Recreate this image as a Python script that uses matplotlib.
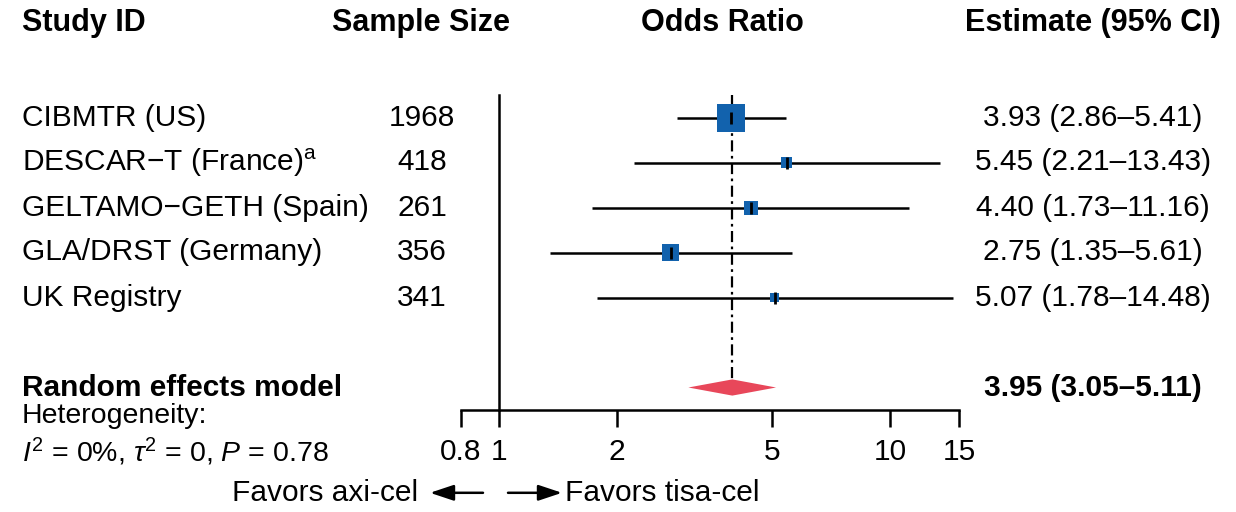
import matplotlib
matplotlib.use("Agg")
import matplotlib.pyplot as plt
from matplotlib import transforms
from matplotlib.patches import Polygon
from matplotlib.ticker import NullLocator, NullFormatter

# ---- data ----
studies = ["CIBMTR (US)", r"DESCAR−T (France)$^{\mathrm{a}}$", "GELTAMO−GETH (Spain)",
           "GLA/DRST (Germany)", "UK Registry"]
sample_sizes = [1968, 418, 261, 356, 341]
odds_ratio = [3.93, 5.45, 4.40, 2.75, 5.07]
ci_low = [2.86, 2.21, 1.73, 1.35, 1.78]
ci_high = [5.41, 13.43, 11.16, 5.61, 14.48]
pooled_or = 3.95
pooled_low = 3.05
pooled_high = 5.11
x_ticks = [0.8, 1, 2, 5, 10, 15]
x_tick_labels = ["0.8", "1", "2", "5", "10", "15"]

# ---- style ----
plt.rcParams["font.family"] = ["Liberation Sans", "DejaVu Sans"]
plt.rcParams["mathtext.fontset"] = "custom"
plt.rcParams["mathtext.rm"] = "Liberation Sans"
plt.rcParams["mathtext.it"] = "Liberation Sans:italic"
plt.rcParams["mathtext.bf"] = "Liberation Sans:bold"

BODY = 21.5
HEAD = 22
BOX_BLUE = "#1262ad"
DIAMOND_RED = "#e8475a"
box_side_px = [28, 11, 14, 17, 9]

W, H = 1236, 512
fig = plt.figure(figsize=(W / 100, H / 100), dpi=100)
ax = fig.add_axes([461 / W, (H - 410) / H, (959 - 461) / W, (410 - 95) / H])
ax.set_xscale("log")
ax.set_xlim(0.8, 15)
ax.set_ylim(6.5, -0.5)
for side in ["top", "right", "left"]:
    ax.spines[side].set_visible(False)
ax.spines["bottom"].set_linewidth(1.8)
ax.set_yticks([])
ax.set_xticks(x_ticks)
ax.set_xticklabels(x_tick_labels)
ax.xaxis.set_minor_locator(NullLocator())
ax.xaxis.set_minor_formatter(NullFormatter())
ax.tick_params(axis="x", length=12, width=1.8, pad=8, labelsize=BODY)

rows = list(range(len(studies)))
pooled_row = 6
dh = 0.18

# reference line at OR = 1 and pooled estimate line
ax.plot([1, 1], [-0.5, 6.5], color="black", lw=1.8, clip_on=False, zorder=2)
ax.plot([pooled_or, pooled_or], [-0.5, pooled_row - dh], color="black", lw=1.6,
        linestyle=(0, (5, 2, 1.2, 2)), zorder=2)

# study CIs, weight boxes and point ticks
ax.hlines(rows, ci_low, ci_high, color="black", lw=1.8, zorder=2)
ax.scatter(odds_ratio, rows, marker="s", s=[(p * 0.72) ** 2 for p in box_side_px],
           color=BOX_BLUE, linewidths=0, zorder=3)
ax.scatter(odds_ratio, rows, marker="|", s=70, color="black", linewidths=2, zorder=4)

# pooled diamond
ax.add_patch(Polygon([[pooled_low, pooled_row], [pooled_or, pooled_row - dh],
                      [pooled_high, pooled_row], [pooled_or, pooled_row + dh]],
                     closed=True, facecolor=DIAMOND_RED, edgecolor="none", zorder=3))

tr = transforms.blended_transform_factory(fig.transFigure, ax.transData)


def put(xpx, y, s, ha="left", size=BODY, weight="normal"):
    ax.text(xpx / W, y, s, transform=tr, ha=ha, va="center", fontsize=size,
            fontweight=weight, clip_on=False)


# headers
head_y = -2.1
put(22, head_y, "Study ID", size=HEAD, weight="bold")
put(421, head_y, "Sample Size", ha="center", size=HEAD, weight="bold")
put(722, head_y, "Odds Ratio", ha="center", size=HEAD, weight="bold")
put(1093, head_y, "Estimate (95% CI)", ha="center", size=HEAD, weight="bold")

# study rows
for r, name, n, est, lo, hi in zip(rows, studies, sample_sizes, odds_ratio, ci_low, ci_high):
    put(22, r, name)
    put(422, r, f"{n}", ha="center")
    put(1093, r, f"{est:.2f} ({lo:.2f}–{hi:.2f})", ha="center")

# pooled row
put(22, pooled_row, "Random effects model", weight="bold")
put(1093, pooled_row, f"{pooled_or:.2f} ({pooled_low:.2f}–{pooled_high:.2f})",
    ha="center", weight="bold")
put(22, 6.64, "Heterogeneity:", size=BODY - 1)
put(22, 7.43, r"$I^2$ = 0%, $\tau^2$ = 0, $P$ = 0.78", size=BODY - 1)

# direction labels
fav_y = 8.34
put(418, fav_y, "Favors axi-cel", ha="right")
put(565, fav_y, "Favors tisa-cel")
arrow = dict(arrowstyle="-|>,head_length=0.9,head_width=0.3", color="black", lw=1.8,
             shrinkA=0, shrinkB=0, mutation_scale=16)
ax.annotate("", xy=(430 / W, fav_y), xytext=(483 / W, fav_y), xycoords=tr,
            textcoords=tr, arrowprops=arrow, annotation_clip=False)
ax.annotate("", xy=(562 / W, fav_y), xytext=(508 / W, fav_y), xycoords=tr,
            textcoords=tr, arrowprops=arrow, annotation_clip=False)

fig.savefig("out.png", dpi=100)
